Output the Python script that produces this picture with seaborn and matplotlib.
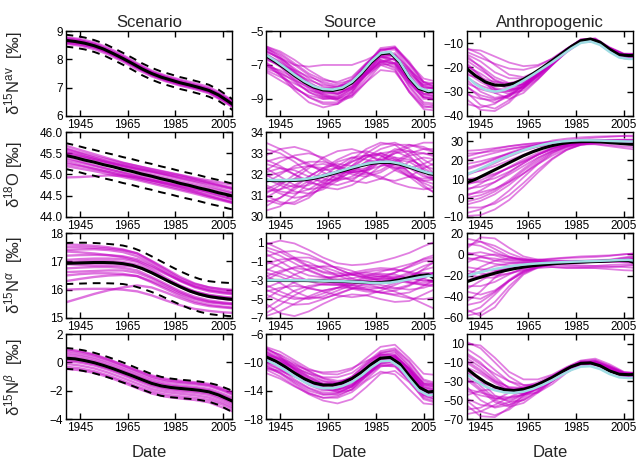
import numpy as np
import pandas as pd
import matplotlib
matplotlib.use("Agg")
import matplotlib.pyplot as plt
import seaborn as sns

# ---------------- data ----------------
E_YEARS = [1939, 1945, 1951, 1957, 1963, 1969, 1975, 1981, 1987, 1993, 1999, 2005, 2011]
M_YEARS = [1939, 1943, 1947, 1951, 1955, 1959, 1963, 1967, 1971, 1975, 1979, 1983, 1987, 1991, 1995, 1999, 2003, 2007, 2011]

COL_TITLES = ["Scenario", "Source", "Anthropogenic"]
ROW_LABELS = ["δ$^{15}$N$^{\\mathrm{av}}$  [‰]", "δ$^{18}$O [‰]", "δ$^{15}$N$^{\\alpha}$  [‰]", "δ$^{15}$N$^{\\beta}$  [‰]"]
X_TICKS = [1945, 1965, 1985, 2005]

# ---- Scenario column ----
SC_NAV_MEAN = [8.67, 8.63, 8.57, 8.48, 8.36, 8.2, 8.03, 7.85, 7.66, 7.5, 7.37, 7.27, 7.17, 7.09, 7.0, 6.9, 6.74, 6.52, 6.28]
SC_NAV_UP = [8.87, 8.83, 8.77, 8.68, 8.56, 8.4, 8.23, 8.05, 7.86, 7.7, 7.57, 7.47, 7.37, 7.29, 7.2, 7.1, 6.93, 6.7, 6.46]
SC_NAV_LO = [8.45, 8.41, 8.35, 8.26, 8.14, 7.98, 7.81, 7.63, 7.44, 7.28, 7.15, 7.05, 6.95, 6.87, 6.78, 6.68, 6.53, 6.32, 6.08]
SC_NAV_ENS = [
    [8.78, 8.72, 8.6, 8.4, 8.15, 7.86, 7.6, 7.42, 7.28, 7.16, 7.02, 6.75, 6.42],
    [8.55, 8.48, 8.36, 8.17, 7.92, 7.64, 7.4, 7.22, 7.07, 6.95, 6.8, 6.52, 6.2],
    [8.72, 8.66, 8.55, 8.35, 8.1, 7.82, 7.56, 7.36, 7.2, 7.08, 6.95, 6.68, 6.36],
    [8.6, 8.54, 8.42, 8.22, 7.97, 7.7, 7.45, 7.27, 7.12, 7.0, 6.85, 6.57, 6.25],
    [8.75, 8.68, 8.53, 8.3, 8.05, 7.78, 7.55, 7.38, 7.24, 7.1, 6.96, 6.7, 6.4],
    [8.58, 8.52, 8.43, 8.25, 8.0, 7.71, 7.44, 7.25, 7.1, 6.99, 6.84, 6.55, 6.22],
    [8.68, 8.62, 8.5, 8.31, 8.07, 7.78, 7.52, 7.33, 7.18, 7.06, 6.92, 6.64, 6.32],
    [8.63, 8.57, 8.45, 8.24, 7.98, 7.72, 7.48, 7.3, 7.15, 7.03, 6.88, 6.6, 6.27],
]

SC_O18_MEAN = [45.45, 45.40, 45.34, 45.29, 45.23, 45.18, 45.12, 45.07, 45.01, 44.96, 44.90, 44.85, 44.79, 44.74, 44.68, 44.63, 44.57, 44.52, 44.46]
SC_O18_UP = [45.74, 45.69, 45.63, 45.58, 45.52, 45.47, 45.41, 45.36, 45.3, 45.25, 45.19, 45.14, 45.08, 45.03, 44.98, 44.92, 44.87, 44.81, 44.76]
SC_O18_LO = [45.13, 45.08, 45.02, 44.97, 44.91, 44.86, 44.8, 44.75, 44.69, 44.64, 44.58, 44.53, 44.47, 44.42, 44.37, 44.31, 44.26, 44.2, 44.15]
SC_O18_ENS = [
    [45.68, 45.58, 45.48, 45.38, 45.28, 45.2, 45.12, 45.05, 44.98, 44.9, 44.82, 44.74, 44.66],
    [45.3, 45.22, 45.14, 45.06, 44.98, 44.9, 44.82, 44.74, 44.66, 44.58, 44.49, 44.41, 44.33],
    [44.93, 44.94, 44.96, 44.98, 44.97, 44.93, 44.86, 44.79, 44.71, 44.63, 44.55, 44.47, 44.39],
    [45.55, 45.46, 45.36, 45.28, 45.2, 45.13, 45.07, 45.0, 44.92, 44.85, 44.78, 44.7, 44.63],
    [45.4, 45.31, 45.22, 45.13, 45.04, 44.95, 44.87, 44.78, 44.7, 44.6, 44.5, 44.4, 44.3],
    [45.6, 45.5, 45.4, 45.3, 45.22, 45.15, 45.08, 45.01, 44.95, 44.88, 44.8, 44.72, 44.64],
    [45.2, 45.14, 45.08, 45.01, 44.94, 44.87, 44.79, 44.71, 44.63, 44.55, 44.46, 44.38, 44.3],
    [45.48, 45.41, 45.33, 45.25, 45.17, 45.09, 45.0, 44.92, 44.84, 44.76, 44.68, 44.6, 44.52],
    [45.35, 45.28, 45.2, 45.12, 45.05, 44.98, 44.91, 44.84, 44.76, 44.68, 44.58, 44.48, 44.38],
    [45.62, 45.52, 45.43, 45.35, 45.27, 45.2, 45.13, 45.06, 44.99, 44.92, 44.86, 44.8, 44.74],
    [45.25, 45.2, 45.13, 45.06, 44.99, 44.93, 44.86, 44.8, 44.73, 44.66, 44.6, 44.53, 44.46],
    [45.52, 45.44, 45.37, 45.29, 45.22, 45.14, 45.06, 44.98, 44.9, 44.82, 44.73, 44.64, 44.55],
]

SC_NA_MEAN = [16.93, 16.94, 16.95, 16.96, 16.96, 16.95, 16.92, 16.86, 16.75, 16.6, 16.43, 16.26, 16.1, 15.95, 15.84, 15.76, 15.71, 15.67, 15.64]
SC_NA_UP = [17.65, 17.66, 17.66, 17.65, 17.63, 17.6, 17.56, 17.48, 17.35, 17.18, 17.0, 16.82, 16.65, 16.5, 16.38, 16.3, 16.26, 16.24, 16.23]
SC_NA_LO = [16.2, 16.21, 16.22, 16.23, 16.23, 16.22, 16.2, 16.14, 16.04, 15.92, 15.78, 15.62, 15.47, 15.33, 15.22, 15.14, 15.1, 15.07, 15.05]
SC_NA_ENS = [
    [17.5, 17.5, 17.48, 17.45, 17.4, 17.28, 17.02, 16.74, 16.45, 16.22, 16.08, 16.0, 15.95],
    [16.5, 16.55, 16.58, 16.58, 16.56, 16.48, 16.26, 16.02, 15.78, 15.58, 15.46, 15.4, 15.35],
    [15.55, 15.7, 15.85, 15.98, 16.08, 16.15, 16.08, 15.9, 15.7, 15.52, 15.42, 15.37, 15.33],
    [17.2, 17.22, 17.23, 17.22, 17.18, 17.08, 16.85, 16.58, 16.3, 16.08, 15.94, 15.87, 15.82],
    [16.75, 16.78, 16.8, 16.8, 16.77, 16.68, 16.45, 16.2, 15.95, 15.75, 15.62, 15.55, 15.5],
    [17.35, 17.32, 17.28, 17.22, 17.15, 17.02, 16.8, 16.55, 16.32, 16.12, 16.0, 15.93, 15.88],
    [16.0, 16.02, 16.03, 16.03, 16.0, 15.94, 15.8, 15.62, 15.45, 15.32, 15.25, 15.2, 15.17],
    [17.05, 17.08, 17.1, 17.1, 17.08, 16.98, 16.72, 16.42, 16.15, 15.94, 15.82, 15.75, 15.7],
    [16.3, 16.38, 16.45, 16.5, 16.52, 16.48, 16.3, 16.08, 15.85, 15.67, 15.55, 15.5, 15.46],
    [16.9, 16.88, 16.86, 16.86, 16.85, 16.8, 16.6, 16.36, 16.12, 15.93, 15.8, 15.73, 15.68],
    [17.6, 17.58, 17.55, 17.5, 17.42, 17.28, 17.0, 16.7, 16.4, 16.2, 16.08, 16.02, 15.98],
    [16.62, 16.64, 16.66, 16.68, 16.68, 16.6, 16.4, 16.15, 15.9, 15.7, 15.58, 15.52, 15.48],
    [17.4, 17.42, 17.43, 17.4, 17.33, 17.18, 16.92, 16.62, 16.34, 16.12, 15.98, 15.9, 15.85],
    [16.95, 17.0, 17.02, 17.02, 16.98, 16.88, 16.64, 16.37, 16.1, 15.88, 15.74, 15.67, 15.62],
]

SC_NB_MEAN = [0.3, 0.25, 0.13, -0.02, -0.22, -0.45, -0.7, -0.95, -1.22, -1.48, -1.66, -1.77, -1.84, -1.9, -1.97, -2.08, -2.3, -2.6, -2.9]
SC_NB_UP = [1.02, 0.96, 0.84, 0.68, 0.48, 0.25, 0.0, -0.27, -0.55, -0.82, -1.02, -1.14, -1.22, -1.28, -1.35, -1.45, -1.62, -1.88, -2.15]
SC_NB_LO = [-0.45, -0.5, -0.62, -0.77, -0.96, -1.18, -1.42, -1.66, -1.92, -2.17, -2.36, -2.46, -2.52, -2.58, -2.65, -2.78, -3.0, -3.35, -3.7]
SC_NB_ENS = [
    [0.85, 0.72, 0.5, 0.18, -0.2, -0.6, -1.0, -1.25, -1.38, -1.47, -1.6, -1.95, -2.35],
    [-0.3, -0.42, -0.62, -0.93, -1.3, -1.7, -2.05, -2.28, -2.4, -2.5, -2.65, -3.0, -3.45],
    [0.55, 0.43, 0.22, -0.1, -0.48, -0.88, -1.27, -1.52, -1.64, -1.73, -1.87, -2.22, -2.65],
    [0.1, -0.02, -0.22, -0.53, -0.9, -1.3, -1.7, -1.94, -2.06, -2.15, -2.3, -2.68, -3.15],
    [0.7, 0.57, 0.36, 0.05, -0.33, -0.73, -1.12, -1.36, -1.47, -1.55, -1.68, -2.02, -2.44],
    [-0.1, -0.22, -0.42, -0.73, -1.1, -1.5, -1.88, -2.1, -2.22, -2.32, -2.48, -2.85, -3.3],
    [0.4, 0.28, 0.08, -0.24, -0.61, -1.0, -1.38, -1.62, -1.74, -1.83, -1.98, -2.35, -2.8],
    [0.2, 0.08, -0.12, -0.44, -0.8, -1.2, -1.58, -1.82, -1.94, -2.03, -2.18, -2.55, -3.0],
    [0.95, 0.8, 0.56, 0.22, -0.17, -0.55, -0.92, -1.16, -1.3, -1.4, -1.52, -1.85, -2.25],
    [-0.45, -0.55, -0.74, -1.04, -1.42, -1.82, -2.2, -2.42, -2.55, -2.65, -2.82, -3.2, -3.6],
]

# ---- Source column ----
SRC_NAV_MEAN = [-6.45, -6.8, -7.2, -7.62, -8.0, -8.3, -8.47, -8.5, -8.38, -8.05, -7.5, -6.85, -6.35, -6.28, -6.85, -7.75, -8.38, -8.58, -8.5]
SRC_NAV_TRUE = [-6.4, -6.75, -7.15, -7.57, -7.95, -8.25, -8.42, -8.45, -8.33, -8.0, -7.45, -6.8, -6.3, -6.23, -6.8, -7.7, -8.33, -8.53, -8.45]
SRC_NAV_ENS = [
    [-5.9, -6.3, -6.9, -7.5, -7.9, -8.0, -7.7, -6.9, -6.1, -6.0, -6.9, -7.8, -8.0],
    [-7.0, -7.6, -8.3, -8.9, -9.2, -9.2, -8.7, -7.6, -6.7, -6.9, -8.2, -9.2, -9.3],
    [-6.2, -6.6, -7.0, -7.1, -7.0, -7.0, -7.0, -6.7, -6.3, -6.5, -7.5, -8.2, -8.0],
    [-6.8, -7.5, -8.3, -8.9, -9.3, -9.3, -8.8, -7.8, -6.9, -6.6, -7.3, -8.0, -8.1],
    [-6.0, -6.4, -7.0, -7.6, -8.1, -8.3, -8.0, -7.2, -6.5, -6.7, -8.0, -8.9, -8.9],
    [-7.3, -7.7, -8.1, -8.5, -8.7, -8.7, -8.3, -7.4, -6.7, -7.0, -8.3, -9.3, -9.4],
    [-6.5, -7.1, -7.9, -8.6, -9.0, -9.0, -8.5, -7.5, -6.8, -7.2, -8.6, -9.5, -9.4],
    [-6.6, -7.0, -7.5, -7.9, -8.2, -8.3, -8.1, -7.4, -6.6, -6.4, -7.2, -8.2, -8.5],
    [-5.95, -6.5, -7.3, -8.0, -8.5, -8.7, -8.4, -7.6, -6.8, -6.6, -7.4, -8.3, -8.4],
    [-7.1, -7.3, -7.8, -8.4, -8.9, -9.0, -8.6, -7.5, -6.5, -6.3, -7.3, -8.4, -8.8],
    [-6.3, -6.9, -7.6, -8.3, -8.8, -8.9, -8.4, -7.3, -6.2, -5.95, -6.8, -8.0, -8.4],
    [-6.7, -7.0, -7.3, -7.7, -8.0, -8.2, -8.1, -7.5, -6.9, -7.1, -8.1, -8.9, -9.0],
    [-6.1, -6.7, -7.5, -8.1, -8.4, -8.3, -7.8, -6.9, -6.3, -6.5, -7.6, -8.4, -8.3],
    [-6.9, -7.4, -8.0, -8.6, -8.9, -8.8, -8.2, -7.2, -6.5, -6.9, -8.0, -8.7, -8.6],
    [-6.4, -6.8, -7.4, -8.1, -8.7, -9.0, -8.8, -8.0, -7.3, -7.4, -8.5, -9.4, -9.6],
    [-6.2, -6.6, -7.2, -7.8, -8.3, -8.4, -8.0, -7.0, -6.0, -5.9, -6.9, -8.0, -8.3],
    [-6.0, -6.6, -7.4, -8.2, -8.8, -9.1, -8.9, -8.0, -7.0, -6.9, -7.9, -8.9, -9.1],
    [-6.6, -7.1, -7.7, -8.2, -8.5, -8.5, -8.0, -7.0, -6.1, -6.1, -7.2, -8.3, -8.4],
    [-7.2, -7.5, -7.9, -8.3, -8.6, -8.6, -8.3, -7.6, -7.0, -7.3, -8.6, -9.6, -9.7],
    [-5.9, -6.2, -6.7, -7.3, -7.8, -8.1, -7.9, -7.0, -6.1, -6.0, -7.0, -8.1, -8.4],
    [-6.9, -7.6, -8.5, -9.2, -9.5, -9.3, -8.6, -7.4, -6.5, -6.7, -7.9, -8.8, -8.8],
    [-6.4, -6.9, -7.6, -8.2, -8.5, -8.4, -7.9, -7.0, -6.4, -6.7, -8.0, -9.0, -9.0],
    [-6.5, -6.9, -7.5, -8.1, -8.6, -8.7, -8.3, -7.3, -6.4, -6.4, -7.6, -8.7, -8.9],
    [-7.4, -7.9, -8.4, -8.8, -9.0, -8.9, -8.4, -7.5, -6.8, -6.9, -7.9, -8.7, -8.7],
]

SRC_O18_MEAN = [31.72, 31.71, 31.71, 31.72, 31.75, 31.82, 31.92, 32.04, 32.17, 32.3, 32.42, 32.52, 32.57, 32.57, 32.49, 32.35, 32.19, 32.05, 31.97]
SRC_O18_TRUE = [31.75, 31.74, 31.74, 31.75, 31.78, 31.85, 31.95, 32.07, 32.2, 32.33, 32.45, 32.55, 32.6, 32.6, 32.52, 32.38, 32.22, 32.08, 32.0]
SRC_O18_ENS = [
    [32.7, 32.4, 32.0, 31.6, 31.5, 31.8, 32.3, 32.8, 33.0, 32.8, 32.3, 31.9, 31.8],
    [31.0, 30.7, 30.6, 30.9, 31.5, 32.1, 32.6, 32.9, 32.9, 32.6, 32.1, 31.7, 31.5],
    [32.2, 32.6, 32.9, 33.0, 32.8, 32.4, 32.1, 32.0, 32.2, 32.6, 33.0, 33.2, 33.2],
    [30.5, 30.9, 31.4, 31.9, 32.3, 32.5, 32.4, 32.1, 31.8, 31.7, 31.9, 32.3, 32.6],
    [33.2, 33.0, 32.6, 32.1, 31.8, 31.7, 31.9, 32.3, 32.7, 33.0, 33.1, 33.0, 32.8],
    [31.5, 31.2, 31.1, 31.3, 31.7, 32.2, 32.7, 33.2, 33.5, 33.4, 32.9, 32.2, 31.6],
    [31.9, 32.1, 32.3, 32.4, 32.3, 32.0, 31.7, 31.6, 31.8, 32.2, 32.6, 32.8, 32.7],
    [30.9, 31.3, 31.8, 32.3, 32.8, 33.1, 33.2, 33.0, 32.6, 32.2, 31.9, 31.8, 31.9],
    [32.5, 32.3, 32.0, 31.7, 31.4, 31.3, 31.5, 31.9, 32.4, 32.7, 32.6, 32.2, 31.8],
    [31.3, 31.6, 31.8, 31.8, 31.7, 31.8, 32.1, 32.6, 33.0, 33.1, 32.8, 32.3, 31.9],
    [31.8, 31.5, 31.2, 31.1, 31.3, 31.7, 32.2, 32.6, 32.7, 32.4, 31.9, 31.4, 31.1],
    [32.9, 33.2, 33.3, 33.1, 32.7, 32.3, 32.1, 32.2, 32.6, 33.0, 33.3, 33.5, 33.5],
    [30.8, 30.6, 30.7, 31.1, 31.6, 32.0, 32.2, 32.1, 31.9, 31.6, 31.4, 31.3, 31.4],
    [31.6, 32.0, 32.4, 32.6, 32.6, 32.4, 32.2, 32.3, 32.6, 32.8, 32.7, 32.4, 32.2],
    [32.3, 31.9, 31.5, 31.3, 31.4, 31.8, 32.4, 33.0, 33.4, 33.5, 33.2, 32.7, 32.3],
    [31.2, 31.3, 31.5, 31.9, 32.3, 32.7, 33.0, 33.1, 32.9, 32.5, 32.0, 31.6, 31.3],
    [30.3, 30.5, 31.0, 31.6, 32.2, 32.6, 32.8, 32.7, 32.5, 32.3, 32.3, 32.5, 32.8],
    [33.5, 33.2, 32.8, 32.4, 32.2, 32.3, 32.6, 32.9, 33.0, 32.7, 32.1, 31.5, 31.0],
    [32.0, 31.6, 31.4, 31.5, 31.9, 32.4, 32.8, 32.9, 32.7, 32.3, 31.9, 31.7, 31.8],
    [31.1, 31.5, 32.0, 32.4, 32.5, 32.3, 32.0, 31.9, 32.1, 32.5, 32.9, 33.0, 32.9],
    [32.6, 32.8, 32.8, 32.5, 32.1, 31.8, 31.8, 32.1, 32.6, 33.1, 33.4, 33.3, 33.0],
    [30.7, 30.9, 31.3, 31.7, 32.0, 32.1, 32.1, 32.2, 32.4, 32.5, 32.4, 32.0, 31.6],
    [31.4, 31.1, 30.9, 31.0, 31.4, 31.9, 32.4, 32.8, 33.2, 33.4, 33.4, 33.2, 33.0],
    [32.1, 32.3, 32.2, 31.9, 31.6, 31.5, 31.7, 32.2, 32.8, 33.2, 33.1, 32.5, 31.9],
]

SRC_NA_MEAN = [-3.02, -3.02, -3.03, -3.03, -3.03, -3.05, -3.07, -3.1, -3.12, -3.17, -3.2, -3.25, -3.25, -3.15, -2.95, -2.72, -2.52, -2.42, -3.0]
SRC_NA_TRUE = [-3.0, -3.0, -3.0, -3.0, -3.0, -3.02, -3.05, -3.08, -3.1, -3.15, -3.2, -3.28, -3.3, -3.25, -3.1, -2.9, -2.7, -2.55, -2.5]
SRC_NA_ENS = [
    [0.8, 1.2, 0.9, 0.2, -0.6, -1.2, -1.4, -1.3, -1.0, -0.6, -0.1, 0.6, 1.2],
    [-5.5, -6.5, -6.8, -6.3, -5.5, -4.8, -4.5, -4.6, -5.0, -5.3, -5.2, -4.5, -3.8],
    [-2.0, -1.2, -0.6, -0.6, -1.1, -1.8, -2.4, -2.7, -2.6, -2.2, -1.6, -1.0, -0.8],
    [-4.0, -4.6, -5.0, -4.9, -4.4, -3.8, -3.4, -3.3, -3.5, -3.8, -4.0, -3.8, -3.3],
    [-1.0, -1.6, -2.4, -3.1, -3.5, -3.5, -3.2, -2.8, -2.6, -2.6, -2.8, -3.0, -3.1],
    [-6.5, -5.6, -4.6, -3.8, -3.4, -3.3, -3.5, -3.9, -4.3, -4.5, -4.3, -3.6, -2.8],
    [0.2, -0.4, -1.2, -2.0, -2.6, -2.9, -2.8, -2.5, -2.1, -1.7, -1.3, -0.8, -0.5],
    [-3.0, -2.2, -1.6, -1.4, -1.6, -2.1, -2.8, -3.4, -3.8, -3.9, -3.5, -2.7, -2.0],
    [-5.0, -4.0, -3.2, -2.9, -3.0, -3.4, -3.9, -4.2, -4.3, -4.1, -3.6, -2.8, -2.0],
    [-2.5, -3.3, -4.2, -4.8, -4.9, -4.5, -3.9, -3.3, -3.0, -3.0, -3.3, -3.5, -3.4],
    [-0.5, 0.0, 0.1, -0.3, -1.0, -1.8, -2.4, -2.8, -2.9, -2.7, -2.2, -1.5, -1.0],
    [-6.8, -6.3, -5.5, -4.7, -4.1, -3.8, -3.8, -4.0, -4.3, -4.6, -4.9, -5.0, -4.8],
    [-1.8, -2.3, -2.8, -3.0, -2.9, -2.6, -2.3, -2.2, -2.4, -2.8, -3.2, -3.5, -3.7],
    [-3.8, -3.2, -2.4, -1.8, -1.5, -1.6, -2.0, -2.6, -3.1, -3.2, -2.8, -1.8, -0.8],
    [-4.5, -5.2, -5.6, -5.5, -5.0, -4.4, -3.9, -3.7, -3.8, -4.2, -4.8, -5.5, -6.2],
    [0.5, 0.0, -0.8, -1.6, -2.2, -2.5, -2.4, -2.1, -1.9, -1.9, -2.1, -2.4, -2.6],
    [-1.3, -0.8, -0.7, -1.1, -1.8, -2.5, -3.0, -3.1, -2.8, -2.2, -1.5, -0.7, -0.2],
    [-3.5, -4.2, -4.8, -5.0, -4.7, -4.1, -3.5, -3.0, -2.8, -2.9, -3.2, -3.3, -3.1],
    [-2.6, -2.0, -1.7, -1.9, -2.5, -3.2, -3.8, -4.0, -3.8, -3.3, -2.6, -1.9, -1.5],
    [-6.0, -5.0, -4.1, -3.6, -3.4, -3.5, -3.6, -3.5, -3.2, -2.8, -2.4, -2.2, -2.3],
    [1.0, 0.3, -0.6, -1.5, -2.1, -2.3, -2.2, -1.9, -1.7, -1.8, -2.2, -2.8, -3.4],
    [-4.2, -3.8, -3.6, -3.8, -4.2, -4.6, -4.8, -4.6, -4.1, -3.5, -2.9, -2.4, -2.1],
    [-2.2, -2.6, -3.3, -3.9, -4.1, -3.8, -3.2, -2.6, -2.3, -2.4, -2.8, -3.1, -3.0],
    [-0.2, -1.0, -1.9, -2.5, -2.7, -2.6, -2.4, -2.4, -2.6, -2.9, -3.0, -2.7, -2.1],
]

SRC_NB_MEAN = [-9.2, -9.8, -10.6, -11.5, -12.3, -12.9, -13.2, -13.2, -12.9, -12.3, -11.4, -10.3, -9.4, -9.3, -10.2, -11.9, -13.5, -14.2, -14.0]
SRC_NB_TRUE = [-9.65, -10.25, -11.05, -11.95, -12.75, -13.35, -13.65, -13.65, -13.35, -12.75, -11.85, -10.75, -9.85, -9.75, -10.65, -12.35, -13.95, -14.65, -14.45]
SRC_NB_ENS = [
    [-7.8, -8.5, -9.7, -10.9, -11.6, -11.7, -11.0, -9.4, -7.8, -7.5, -9.4, -11.6, -11.8],
    [-10.5, -11.6, -13.0, -14.3, -15.0, -15.0, -14.2, -12.6, -11.3, -11.7, -13.8, -15.8, -16.0],
    [-9.0, -9.6, -10.4, -11.1, -11.4, -11.3, -10.8, -9.8, -8.9, -9.1, -10.9, -12.9, -13.2],
    [-11.0, -12.0, -13.3, -14.5, -15.4, -15.8, -15.2, -13.5, -11.6, -11.2, -12.8, -15.0, -15.6],
    [-8.4, -9.3, -10.8, -12.2, -13.0, -13.0, -12.2, -10.5, -8.7, -8.2, -10.0, -12.6, -13.2],
    [-9.8, -10.7, -11.8, -12.8, -13.5, -13.8, -13.4, -12.0, -10.5, -10.5, -12.4, -14.8, -15.2],
    [-8.8, -9.8, -11.2, -12.5, -13.2, -13.1, -12.0, -10.2, -8.6, -8.4, -10.4, -13.0, -13.6],
    [-10.2, -11.0, -12.0, -12.9, -13.5, -13.6, -13.1, -11.8, -10.4, -10.6, -12.6, -14.6, -14.8],
    [-7.9, -9.2, -11.0, -12.7, -13.8, -14.1, -13.5, -11.8, -10.0, -9.6, -11.2, -13.4, -14.0],
    [-9.5, -10.0, -10.8, -11.6, -12.1, -12.1, -11.5, -10.0, -8.4, -8.0, -9.8, -12.4, -13.0],
    [-11.5, -12.3, -13.4, -14.4, -15.0, -14.8, -13.8, -11.9, -10.2, -10.3, -12.6, -15.2, -15.8],
    [-8.6, -9.6, -10.9, -12.0, -12.7, -12.8, -12.2, -10.7, -9.2, -9.3, -11.5, -14.0, -14.6],
    [-10.0, -10.4, -11.3, -12.5, -13.6, -14.2, -13.9, -12.4, -10.6, -10.2, -11.8, -14.2, -15.0],
    [-9.2, -10.3, -11.8, -13.2, -14.0, -13.9, -12.8, -10.8, -9.0, -9.0, -11.0, -13.2, -13.4],
    [-8.2, -8.9, -10.0, -11.2, -12.2, -12.6, -12.4, -11.2, -9.6, -9.2, -10.8, -13.0, -13.2],
    [-10.8, -11.5, -12.6, -13.7, -14.5, -14.6, -13.8, -12.0, -10.0, -9.6, -11.5, -14.2, -15.0],
    [-8.0, -9.0, -10.5, -12.0, -13.1, -13.4, -12.6, -10.8, -9.0, -8.6, -10.6, -13.2, -13.8],
    [-10.8, -11.2, -12.0, -12.9, -13.6, -13.8, -13.2, -11.6, -9.8, -9.4, -11.2, -13.8, -14.6],
    [-9.4, -10.4, -11.7, -12.9, -13.7, -13.9, -13.2, -11.5, -9.6, -9.2, -11.0, -13.6, -14.2],
    [-8.9, -9.4, -10.2, -11.3, -12.3, -12.9, -12.8, -11.7, -10.2, -9.8, -11.4, -13.8, -14.4],
    [-10.0, -11.0, -12.4, -13.6, -14.3, -14.3, -13.4, -11.4, -9.4, -9.0, -10.9, -13.8, -14.8],
    [-9.6, -9.9, -10.6, -11.6, -12.6, -13.2, -12.9, -11.5, -9.8, -9.6, -11.6, -14.1, -14.4],
    [-8.5, -9.6, -11.0, -12.3, -13.0, -12.9, -12.0, -10.3, -8.8, -8.9, -11.0, -13.5, -14.0],
    [-10.4, -11.4, -12.8, -14.0, -14.6, -14.4, -13.4, -11.6, -10.0, -10.0, -12.0, -14.6, -15.4],
]

# ---- Anthropogenic column ----
ANT_NAV_MEAN = [-20.3, -23.5, -26.0, -27.3, -27.4, -26.6, -24.9, -22.6, -20.0, -17.2, -14.3, -11.4, -9.0, -8.3, -9.6, -12.5, -14.8, -15.1, -15.0]
ANT_NAV_TRUE = [-23.5, -27.0, -29.2, -30.0, -29.3, -27.6, -25.4, -23.0, -20.4, -17.8, -15.0, -12.2, -9.9, -9.3, -10.7, -13.6, -15.9, -16.5, -16.5]
ANT_NAV_ENS = [
    [-12.5, -13.0, -15.5, -18.0, -19.5, -19.0, -16.5, -12.5, -9.0, -8.6, -11.9, -14.5, -14.8],
    [-30.0, -35.5, -37.0, -33.5, -28.5, -23.0, -18.0, -13.2, -9.5, -9.2, -13.0, -16.3, -16.5],
    [-17.0, -21.0, -25.0, -27.5, -27.0, -23.5, -18.5, -13.5, -9.5, -9.0, -12.6, -15.2, -15.3],
    [-25.0, -30.0, -32.5, -31.5, -27.5, -22.5, -17.5, -12.8, -8.6, -8.2, -12.0, -14.6, -14.4],
    [-14.5, -17.5, -22.0, -24.5, -24.5, -22.0, -17.8, -13.2, -9.4, -9.3, -13.0, -15.6, -15.7],
    [-22.0, -26.0, -29.0, -30.0, -28.0, -23.8, -18.8, -13.8, -9.7, -9.4, -13.4, -16.2, -16.4],
    [-28.0, -31.5, -33.0, -32.0, -28.5, -23.6, -18.0, -12.6, -8.4, -8.0, -11.7, -14.3, -14.4],
    [-13.5, -16.0, -18.5, -20.5, -21.0, -19.5, -16.3, -12.3, -8.8, -8.7, -12.3, -15.0, -15.2],
    [-19.5, -22.5, -26.5, -29.0, -28.5, -24.5, -19.0, -13.6, -9.3, -8.8, -12.4, -15.0, -15.1],
    [-33.0, -37.5, -38.0, -34.5, -28.5, -22.5, -17.2, -12.4, -8.5, -8.4, -12.3, -15.0, -15.3],
    [-16.0, -19.5, -24.0, -26.5, -26.0, -22.6, -18.0, -13.0, -8.9, -8.5, -12.0, -14.7, -14.9],
    [-24.0, -27.5, -29.5, -29.0, -26.5, -22.3, -17.6, -12.9, -9.1, -9.0, -12.9, -15.8, -16.0],
    [-26.5, -29.0, -30.5, -29.8, -27.0, -22.8, -17.8, -12.9, -9.0, -8.7, -12.4, -15.1, -15.2],
    [-18.0, -23.5, -29.0, -31.0, -29.5, -24.8, -19.0, -13.4, -9.2, -8.9, -12.6, -15.3, -15.5],
    [-21.0, -25.0, -28.5, -29.5, -27.8, -23.6, -18.3, -13.2, -9.2, -9.0, -12.8, -15.5, -15.6],
    [-15.0, -20.0, -25.5, -28.0, -27.0, -23.2, -18.1, -13.1, -9.0, -8.6, -12.2, -14.8, -14.9],
    [-35.0, -36.5, -35.0, -31.0, -26.5, -21.8, -17.0, -12.5, -8.8, -8.6, -12.4, -15.2, -15.4],
    [-23.0, -24.5, -26.0, -26.5, -25.0, -21.5, -17.2, -12.9, -9.1, -8.9, -12.6, -15.3, -15.5],
    [-18.5, -24.0, -30.5, -33.0, -30.5, -25.0, -19.0, -13.3, -9.0, -8.5, -12.1, -14.8, -14.9],
    [-27.5, -32.5, -34.5, -32.0, -27.5, -22.5, -17.6, -12.8, -8.9, -8.8, -12.7, -15.6, -15.9],
    [-12.0, -14.5, -19.0, -23.0, -24.0, -21.5, -17.3, -12.7, -8.7, -8.4, -12.0, -14.6, -14.7],
    [-31.0, -33.0, -33.5, -31.5, -27.6, -22.8, -17.8, -13.0, -9.2, -9.1, -13.1, -16.0, -16.2],
]

ANT_O18_MEAN = [8.0, 10.0, 12.5, 15.0, 17.5, 20.0, 22.5, 24.6, 26.4, 27.8, 28.9, 29.6, 29.9, 30.0, 29.8, 29.4, 29.0, 28.6, 28.4]
ANT_O18_TRUE = [12.5, 14.5, 16.8, 19.2, 21.5, 23.6, 25.4, 27.0, 28.3, 29.3, 30.0, 30.4, 30.6, 30.6, 30.5, 30.3, 30.1, 30.0, 30.0]
ANT_O18_ENS = [
    [22.0, 24.0, 26.0, 27.5, 28.5, 29.3, 29.8, 30.0, 30.2, 30.3, 30.5, 30.8, 31.0],
    [-8.0, -6.0, -2.0, 4.0, 11.0, 18.0, 23.5, 27.0, 28.8, 29.5, 29.8, 29.8, 29.7],
    [5.0, 6.0, 8.5, 12.5, 17.0, 21.5, 25.0, 27.5, 29.0, 29.6, 29.8, 29.6, 29.4],
    [15.0, 17.5, 20.5, 23.5, 26.0, 28.0, 29.4, 30.2, 30.6, 30.7, 30.5, 30.2, 30.0],
    [-2.0, 0.0, 3.5, 8.5, 14.5, 20.0, 24.5, 27.0, 28.3, 28.6, 28.2, 27.4, 26.8],
    [10.0, 11.0, 13.0, 16.0, 19.5, 23.0, 26.0, 28.2, 29.5, 30.0, 30.0, 29.6, 29.2],
    [25.0, 25.5, 26.5, 27.5, 28.4, 29.0, 29.8, 30.6, 31.4, 32.0, 32.5, 33.0, 33.2],
    [2.0, 3.0, 5.0, 8.5, 13.0, 18.0, 22.5, 26.0, 28.2, 29.2, 29.5, 29.3, 29.0],
    [12.0, 15.0, 18.5, 22.0, 25.0, 27.3, 29.0, 29.2, 29.0, 28.5, 27.5, 26.5, 25.5],
    [-5.0, -5.0, -3.0, 1.5, 8.0, 15.0, 21.0, 25.5, 28.2, 29.4, 29.8, 29.8, 29.7],
    [7.0, 9.5, 12.5, 16.0, 19.5, 23.0, 26.0, 28.0, 29.2, 29.6, 29.5, 29.0, 28.6],
    [18.0, 19.5, 21.5, 23.5, 25.5, 27.3, 28.7, 29.6, 30.2, 30.5, 30.6, 30.5, 30.3],
    [0.0, 1.5, 4.5, 9.5, 15.5, 21.0, 25.0, 27.8, 29.3, 29.9, 30.0, 29.7, 29.3],
    [4.0, 7.5, 12.0, 16.5, 20.5, 24.0, 26.7, 28.5, 29.6, 30.0, 29.8, 29.0, 27.5],
    [20.0, 22.0, 24.0, 25.8, 27.2, 28.3, 29.2, 29.8, 30.3, 30.6, 30.7, 30.6, 30.5],
    [-9.5, -9.0, -6.0, -1.0, 6.0, 13.5, 20.5, 25.5, 28.5, 29.8, 30.2, 30.0, 29.7],
    [8.0, 8.5, 10.5, 14.0, 18.5, 23.0, 26.5, 28.7, 29.8, 30.1, 29.9, 29.3, 28.8],
    [13.0, 14.5, 17.0, 20.0, 23.0, 25.8, 28.0, 29.4, 30.1, 30.3, 30.0, 29.4, 28.8],
    [-3.5, -1.5, 2.0, 7.0, 13.0, 19.0, 24.0, 27.5, 29.3, 29.9, 30.0, 29.8, 29.5],
    [16.0, 18.0, 21.0, 24.0, 26.5, 28.3, 30.5, 31.5, 32.2, 32.6, 32.8, 32.8, 32.6],
    [1.0, 4.0, 8.5, 13.5, 18.5, 23.0, 26.3, 28.5, 29.7, 30.1, 30.0, 29.5, 29.0],
    [23.5, 24.0, 25.0, 26.2, 27.3, 28.3, 29.2, 29.9, 30.4, 30.7, 30.9, 31.0, 31.0],
]

ANT_NA_MEAN = [-26.0, -23.0, -20.3, -17.8, -15.5, -13.6, -12.0, -10.8, -9.8, -9.0, -8.3, -7.8, -7.4, -7.0, -6.7, -6.3, -5.8, -6.0, -9.0]
ANT_NA_TRUE = [-20.5, -18.0, -15.8, -13.8, -12.2, -10.8, -9.7, -8.9, -8.3, -7.8, -7.4, -7.0, -6.7, -6.4, -6.1, -5.8, -5.4, -5.2, -6.5]
ANT_NA_ENS = [
    [5.0, 16.0, 15.0, 6.0, -2.0, -5.0, -6.0, -6.0, -6.0, -5.5, -5.0, -3.0, -1.0],
    [-55.0, -50.0, -38.0, -25.0, -16.0, -11.0, -9.0, -8.0, -7.5, -7.0, -6.5, -6.0, -6.5],
    [-5.0, -3.0, -4.0, -6.0, -7.5, -8.0, -7.5, -7.0, -6.5, -6.0, -5.5, -5.0, -5.0],
    [-40.0, -42.0, -35.0, -24.0, -15.0, -10.5, -8.5, -9.5, -10.5, -11.0, -11.5, -12.0, -13.0],
    [-20.0, -12.0, -6.0, -4.0, -4.5, -5.5, -6.0, -6.3, -6.5, -6.5, -6.3, -5.5, -4.5],
    [10.0, 8.0, 2.0, -3.0, -6.0, -7.0, -7.2, -7.2, -7.0, -6.8, -6.5, -6.0, -5.5],
    [-30.0, -30.0, -26.0, -19.0, -13.0, -10.0, -8.5, -7.8, -7.3, -6.8, -6.0, -4.5, -3.0],
    [-12.0, -14.0, -15.0, -14.0, -11.5, -11.0, -12.0, -12.5, -12.5, -13.0, -14.0, -15.0, -15.5],
    [-45.0, -35.0, -22.0, -13.0, -9.0, -7.8, -7.5, -7.3, -7.0, -6.5, -5.5, -3.5, -2.0],
    [0.0, 2.0, -1.0, -5.0, -6.0, -5.0, -4.0, -3.0, -2.0, -1.5, -1.0, 0.0, 1.0],
    [-25.0, -20.0, -16.0, -13.0, -10.5, -9.0, -8.0, -7.5, -7.0, -6.8, -6.8, -7.5, -9.0],
    [-35.0, -38.0, -34.0, -25.0, -17.0, -12.0, -9.5, -8.3, -7.6, -7.0, -6.2, -5.0, -4.5],
    [-8.0, -2.0, 0.0, -2.5, -5.0, -6.0, -4.5, -3.5, -3.0, -2.5, -1.5, 0.0, 1.0],
    [-58.0, -55.0, -45.0, -30.0, -18.0, -12.0, -9.5, -8.5, -7.8, -7.2, -6.5, -5.5, -5.0],
    [-15.0, -18.0, -20.0, -18.0, -13.5, -10.0, -8.5, -7.8, -7.3, -7.0, -6.8, -7.0, -7.5],
    [15.0, 12.0, 5.0, -2.0, -5.5, -6.8, -7.0, -7.0, -6.8, -6.5, -6.3, -5.8, -5.5],
    [-48.0, -45.0, -36.0, -25.0, -16.5, -11.5, -9.2, -8.2, -7.6, -7.0, -6.4, -5.5, -5.0],
    [8.0, 12.0, 8.0, 1.0, -4.0, -6.5, -7.2, -7.3, -7.0, -6.6, -6.2, -5.5, -4.8],
    [-18.0, -22.0, -22.0, -18.0, -15.0, -13.0, -12.0, -13.0, -13.0, -12.5, -12.0, -11.0, -10.0],
    [-3.0, -6.0, -9.0, -10.5, -10.0, -9.0, -8.2, -7.6, -7.2, -6.8, -6.5, -6.5, -7.0],
    [-33.0, -25.0, -17.0, -12.0, -9.5, -8.3, -7.7, -7.4, -7.1, -6.8, -6.5, -6.0, -5.5],
    [2.0, -2.0, -6.0, -8.0, -8.5, -9.0, -10.0, -11.0, -11.5, -11.0, -10.0, -9.5, -10.0],
    [-52.0, -58.0, -50.0, -33.0, -19.0, -12.5, -9.5, -8.4, -7.7, -7.1, -6.6, -6.2, -6.5],
    [-22.0, -16.0, -11.0, -8.5, -7.5, -7.2, -7.1, -7.0, -6.8, -6.4, -5.8, -4.5, -3.5],
]

ANT_NB_MEAN = [-16.0, -24.0, -31.0, -36.0, -39.0, -39.8, -38.5, -35.5, -31.0, -26.0, -20.0, -14.5, -11.0, -10.5, -13.5, -19.0, -22.5, -23.0, -22.5]
ANT_NB_TRUE = [-22.0, -29.5, -35.5, -39.5, -41.8, -42.3, -41.0, -38.0, -33.8, -28.8, -23.2, -18.0, -14.5, -14.0, -17.0, -22.3, -25.8, -26.5, -26.0]
ANT_NB_ENS = [
    [10.0, 8.0, -5.0, -20.0, -28.0, -28.0, -23.0, -15.0, -8.0, -6.0, -12.0, -20.0, -22.0],
    [-50.0, -62.0, -66.0, -60.0, -48.0, -37.0, -27.0, -18.0, -12.0, -12.0, -18.0, -24.0, -25.0],
    [-5.0, -15.0, -28.0, -37.0, -39.0, -35.0, -27.0, -17.0, -10.0, -9.5, -16.0, -22.0, -22.0],
    [-35.0, -50.0, -58.0, -55.0, -46.0, -36.0, -26.0, -17.0, -11.0, -11.0, -17.5, -23.0, -23.5],
    [-20.0, -28.0, -37.0, -42.0, -42.0, -36.0, -27.0, -17.0, -9.5, -8.0, -14.0, -21.0, -22.0],
    [-60.0, -58.0, -50.0, -42.0, -36.0, -31.0, -24.0, -16.0, -10.0, -10.0, -17.0, -24.0, -25.0],
    [5.0, -5.0, -18.0, -30.0, -37.0, -37.0, -30.0, -19.0, -11.0, -10.5, -17.0, -23.0, -23.0],
    [-25.0, -38.0, -50.0, -55.0, -50.0, -40.0, -29.0, -18.5, -11.5, -11.0, -17.0, -22.0, -21.5],
    [-10.0, -20.0, -30.0, -36.0, -37.0, -33.0, -25.0, -15.5, -8.5, -7.5, -13.5, -20.5, -21.0],
    [-40.0, -45.0, -48.0, -48.0, -44.0, -37.0, -28.0, -19.0, -13.0, -13.0, -19.5, -26.0, -27.0],
    [-15.0, -30.0, -45.0, -52.0, -50.0, -41.0, -30.0, -19.0, -11.5, -10.5, -16.0, -22.5, -24.0],
    [-30.0, -32.0, -36.0, -40.0, -41.0, -37.0, -29.0, -19.0, -11.0, -10.0, -15.5, -21.5, -22.5],
    [0.0, -10.0, -25.0, -38.0, -44.0, -42.0, -33.0, -21.0, -12.0, -10.5, -16.5, -23.5, -24.5],
    [-55.0, -67.0, -68.0, -58.0, -45.0, -34.0, -25.0, -16.5, -10.5, -10.0, -16.0, -22.0, -22.5],
    [-45.0, -40.0, -38.0, -38.0, -37.0, -33.0, -26.0, -17.5, -11.0, -11.5, -18.5, -25.0, -26.0],
    [-20.0, -35.0, -48.0, -50.0, -44.0, -35.0, -26.0, -17.0, -10.0, -9.0, -15.0, -22.0, -23.5],
    [-65.0, -62.0, -55.0, -47.0, -40.0, -33.0, -25.0, -16.5, -10.0, -9.5, -16.0, -23.0, -24.0],
    [-8.0, -18.0, -30.0, -40.0, -43.0, -39.0, -30.0, -19.0, -11.0, -10.0, -16.5, -23.0, -24.0],
    [-28.0, -40.0, -52.0, -57.0, -53.0, -42.0, -30.0, -19.0, -12.0, -11.5, -18.0, -24.5, -25.0],
    [12.0, 5.0, -10.0, -25.0, -34.0, -35.0, -28.0, -18.0, -10.5, -9.5, -15.5, -22.0, -23.0],
    [-38.0, -42.0, -46.0, -47.0, -44.0, -37.0, -28.0, -18.0, -11.0, -10.5, -17.0, -23.5, -24.5],
    [-48.0, -55.0, -57.0, -52.0, -44.0, -35.0, -26.0, -17.0, -10.5, -10.5, -17.0, -24.0, -25.0],
    [-15.0, -22.0, -32.0, -40.0, -42.0, -38.0, -29.0, -18.5, -10.5, -9.0, -14.5, -21.0, -22.0],
    [-2.0, -12.0, -22.0, -30.0, -34.0, -33.0, -27.0, -17.5, -10.0, -9.0, -15.0, -21.5, -22.5],
]

# axis settings per row/col: (ylim, yticks)
Y_SETUP = [
    [((6, 9), [6, 7, 8, 9]), ((-10, -5), [-9, -7, -5]), ((-40, -5), [-40, -30, -20, -10])],
    [((44, 46), [44.0, 44.5, 45.0, 45.5, 46.0]), ((30, 34), [30, 31, 32, 33, 34]), ((-10, 35), [-10, 0, 10, 20, 30])],
    [((15, 18), [15, 16, 17, 18]), ((-7, 2), [-7, -5, -3, -1, 1]), ((-60, 20), [-60, -40, -20, 0, 20])],
    [((-4, 2), [-4, -2, 0, 2]), ((-18, -6), [-18, -14, -10, -6]), ((-70, 20), [-70, -50, -30, -10, 10])],
]

PANELS = [
    [dict(ens=SC_NAV_ENS, mean=SC_NAV_MEAN, up=SC_NAV_UP, lo=SC_NAV_LO),
     dict(ens=SRC_NAV_ENS, mean=SRC_NAV_MEAN, true=SRC_NAV_TRUE),
     dict(ens=ANT_NAV_ENS, mean=ANT_NAV_MEAN, true=ANT_NAV_TRUE)],
    [dict(ens=SC_O18_ENS, mean=SC_O18_MEAN, up=SC_O18_UP, lo=SC_O18_LO),
     dict(ens=SRC_O18_ENS, mean=SRC_O18_MEAN, true=SRC_O18_TRUE),
     dict(ens=ANT_O18_ENS, mean=ANT_O18_MEAN, true=ANT_O18_TRUE)],
    [dict(ens=SC_NA_ENS, mean=SC_NA_MEAN, up=SC_NA_UP, lo=SC_NA_LO),
     dict(ens=SRC_NA_ENS, mean=SRC_NA_MEAN, true=SRC_NA_TRUE),
     dict(ens=ANT_NA_ENS, mean=ANT_NA_MEAN, true=ANT_NA_TRUE)],
    [dict(ens=SC_NB_ENS, mean=SC_NB_MEAN, up=SC_NB_UP, lo=SC_NB_LO),
     dict(ens=SRC_NB_ENS, mean=SRC_NB_MEAN, true=SRC_NB_TRUE),
     dict(ens=ANT_NB_ENS, mean=ANT_NB_MEAN, true=ANT_NB_TRUE)],
]

# ---------------- style ----------------
sns.set_theme(style="ticks")
plt.rcParams["font.family"] = ["Liberation Sans", "DejaVu Sans"]
plt.rcParams["mathtext.fontset"] = "custom"
plt.rcParams["mathtext.rm"] = "Liberation Sans"
plt.rcParams["mathtext.it"] = "Liberation Sans:italic"
plt.rcParams["axes.linewidth"] = 1.0
plt.rcParams["axes.edgecolor"] = "black"

MAGENTA = "#c400c4"
CYAN = "#9fdde3"

fig, axes = plt.subplots(4, 3, figsize=(6.37, 4.65), dpi=100)
fig.subplots_adjust(left=0.1036, right=0.9937, top=0.9333, bottom=0.0989, wspace=0.204, hspace=0.19)


def ens_frame(curves):
    rows = []
    for i, c in enumerate(curves):
        for yr, v in zip(E_YEARS, c):
            rows.append((i, yr, v))
    return pd.DataFrame(rows, columns=["member", "year", "value"])


for r in range(4):
    for c in range(3):
        ax = axes[r, c]
        p = PANELS[r][c]
        df = ens_frame(p["ens"])
        if c == 0:
            sns.lineplot(data=df, x="year", y="value", units="member", estimator=None,
                         color=MAGENTA, alpha=0.55, lw=1.7, ax=ax, legend=False)
        else:
            sns.lineplot(data=df, x="year", y="value", units="member", estimator=None,
                         color=MAGENTA, alpha=0.5, lw=1.3, ax=ax, legend=False)
        sns.lineplot(x=M_YEARS, y=p["mean"], color="black", lw=2.2, ax=ax)
        if "true" in p:
            sns.lineplot(x=M_YEARS, y=p["true"], color=CYAN, lw=1.8, ax=ax)
        if "up" in p:
            sns.lineplot(x=M_YEARS, y=p["up"], color="black", lw=1.4, ax=ax,
                         linestyle=(0, (4, 3)))
            sns.lineplot(x=M_YEARS, y=p["lo"], color="black", lw=1.4, ax=ax,
                         linestyle=(0, (4, 3)))
        ax.set_xlim(1939.2, 2008.8)
        ylim, yticks = Y_SETUP[r][c]
        ax.set_ylim(*ylim)
        ax.set_yticks(yticks)
        ax.set_xticks(X_TICKS)
        if r == 1 and c == 0:
            ax.set_yticklabels([f"{t:.1f}" for t in yticks])
        ax.tick_params(direction="in", top=True, right=True, length=4, width=1,
                       labelsize=8.5, pad=2, colors="black")
        ax.set_xlabel("")
        ax.set_ylabel("")
        for s in ax.spines.values():
            s.set_visible(True)
            s.set_linewidth(1.0)
        if r == 0:
            ax.set_title(COL_TITLES[c], fontsize=12, pad=3)
        if r == 3:
            ax.set_xlabel("Date", fontsize=12, labelpad=8)
        if c == 0:
            ax.set_ylabel(ROW_LABELS[r], fontsize=12)
            ax.yaxis.set_label_coords(-0.245, 0.5)

fig.savefig("out.png", dpi=100)
